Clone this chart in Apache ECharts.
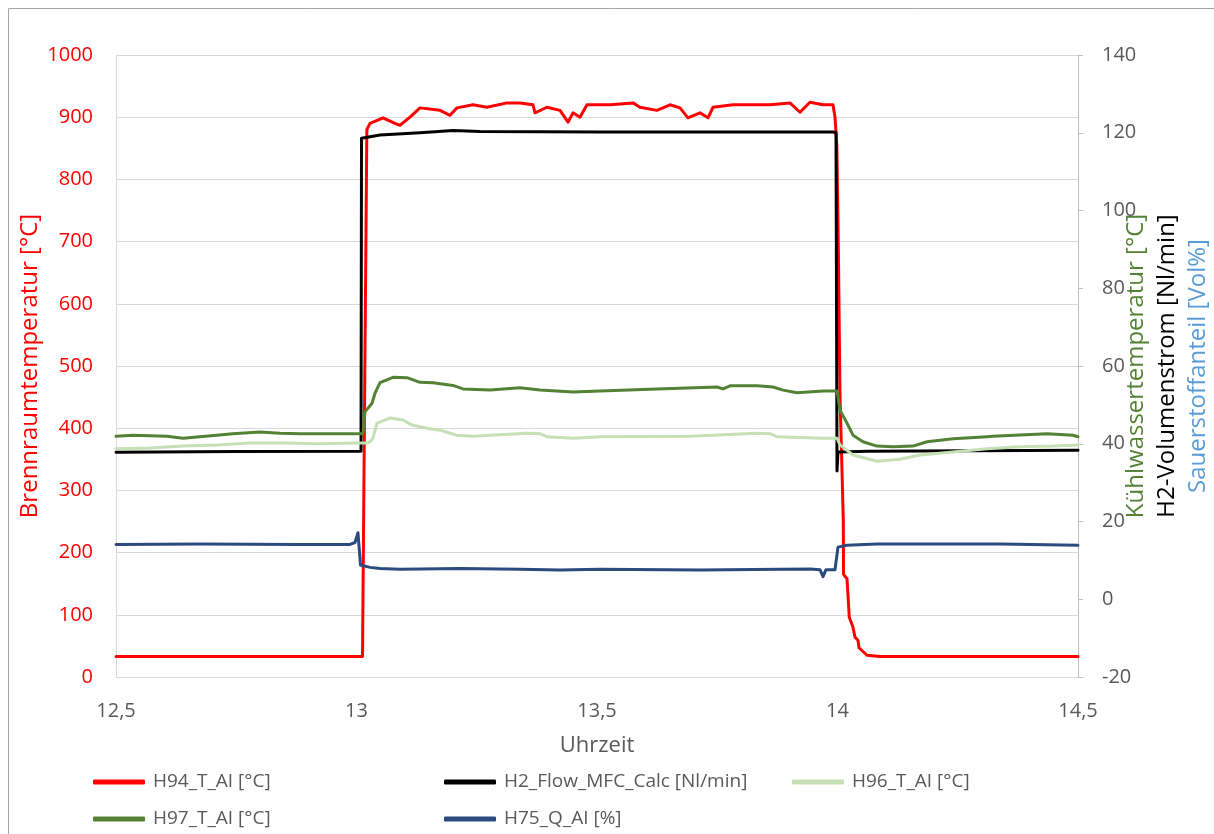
<!DOCTYPE html>
<html>
<head>
<meta charset="utf-8">
<script src="https://cdn.jsdelivr.net/npm/echarts@6/dist/echarts.min.js"></script>
<style>
html,body{margin:0;padding:0;background:#fff;overflow:hidden;}
#chart{width:1214px;height:834px;}
</style>
</head>
<body>
<div id="chart"></div>
<script>
// Series names
const seriesNames = ['H94_T_AI [°C]', 'H2_Flow_MFC_Calc [Nl/min]', 'H96_T_AI [°C]', 'H97_T_AI [°C]', 'H75_Q_AI [%]'];

// x-axis ticks (Uhrzeit)
const xMin = 12.5, xMax = 14.5, xStep = 0.5;
// left axis ticks (Brennraumtemperatur)
const yLeftMin = 0, yLeftMax = 1000, yLeftStep = 100;
// right axis ticks
const yRightMin = -20, yRightMax = 140, yRightStep = 20;

// H94_T_AI [°C] — left axis
const h94 = [
  [12.5,33],[13.0125,33],[13.0170,460],[13.0215,880],[13.0281,890],[13.0551,899],[13.0800,890],[13.0904,887],
  [13.1112,900],[13.1320,915],[13.1736,911],[13.1944,903],[13.2089,915],[13.2422,920],[13.2713,916],
  [13.3129,923],[13.3399,923],[13.3669,920],[13.3711,907],[13.3960,916],[13.4231,911],[13.4397,892],
  [13.4501,907],[13.4647,900],[13.4792,920],[13.5062,920],[13.5270,920],[13.5748,923],[13.5894,916],
  [13.6247,911],[13.6518,920],[13.6726,915],[13.6892,899],[13.7141,907],[13.7308,899],[13.7412,916],
  [13.7827,920],[13.8181,920],[13.8597,920],[13.9012,923],[13.9220,908],[13.9428,924],[13.9699,920],
  [13.9906,920],[13.9948,900],[13.9986,855],[14.0019,683],[14.0052,453],[14.0094,330],[14.0121,250],
  [14.0125,165],[14.0198,158],[14.0229,156],[14.0245,96],[14.0322,80],[14.0364,64],[14.0426,59],
  [14.0447,47],[14.0613,35],[14.0884,33],[14.5,33]
];

// H2_Flow_MFC_Calc [Nl/min] — right axis
const h2flow = [
  [12.5,37.8],[12.75,38.0],[13.0094,38.1],[13.0104,118.6],[13.0489,119.4],[13.1320,120.0],[13.2006,120.6],
  [13.2568,120.3],[13.5062,120.2],[13.9906,120.2],[13.9969,120.0],[13.9990,33.0],[14.0010,37.9],
  [14.0634,38.1],[14.5,38.3]
];

// H96_T_AI [°C] — right axis
const h96 = [
  [12.5,38.7],[12.5707,38.9],[12.6393,39.4],[12.7100,39.7],[12.7786,40.2],[12.8472,40.2],[12.9179,40.0],
  [13.0073,40.2],[13.0218,40.2],[13.0281,40.5],[13.0343,41.4],[13.0426,45.3],[13.0696,46.6],[13.0967,46.1],
  [13.1154,44.8],[13.1466,44.0],[13.1736,43.5],[13.2089,42.2],[13.2422,41.9],[13.3545,42.7],[13.3815,42.6],
  [13.3960,41.8],[13.4501,41.4],[13.5062,41.8],[13.6933,41.9],[13.8326,42.7],[13.8597,42.6],[13.8742,41.8],
  [13.9699,41.4],[13.9990,41.4],[14.0052,39.7],[14.0322,37.1],[14.0821,35.5],[14.1299,36.0],[14.1715,37.1],
  [14.2401,37.9],[14.3108,38.7],[14.3794,39.2],[14.4480,39.4],[14.5,39.7]
];

// H97_T_AI [°C] — right axis
const h97 = [
  [12.5,41.9],[12.5353,42.2],[12.6060,41.9],[12.6393,41.4],[12.6746,41.8],[12.7432,42.6],[12.7994,43.0],
  [12.8410,42.7],[12.8825,42.6],[13.0135,42.6],[13.0177,48.2],[13.0322,50.4],[13.0385,53.0],[13.0489,55.7],
  [13.0759,57.1],[13.1050,57.0],[13.1320,55.8],[13.1590,55.7],[13.2006,55.0],[13.2214,54.1],[13.2775,53.8],
  [13.3399,54.4],[13.3815,53.8],[13.4501,53.3],[13.5062,53.6],[13.6247,54.1],[13.7495,54.6],[13.7620,54.1],
  [13.7765,54.9],[13.8326,54.9],[13.8659,54.6],[13.8867,53.8],[13.9158,53.1],[13.9699,53.6],[13.9990,53.6],
  [14.0052,48.6],[14.0198,45.3],[14.0322,42.2],[14.0530,40.5],[14.0821,39.4],[14.1154,39.2],[14.1570,39.4],
  [14.1861,40.5],[14.2401,41.3],[14.3108,41.8],[14.3233,41.9],[14.4356,42.6],[14.4896,42.2],[14.5,41.8]
];

// H75_Q_AI [%] — right axis
const h75 = [
  [12.5,14.1],[12.6746,14.2],[12.8825,14.1],[12.9865,14.1],[12.9969,14.6],[13.0031,17.1],[13.0062,17.3],
  [13.0083,8.8],[13.0281,8.2],[13.0489,7.9],[13.0904,7.7],[13.2152,7.9],[13.3399,7.7],[13.4231,7.5],
  [13.5062,7.7],[13.7141,7.5],[13.8805,7.7],[13.9428,7.8],[13.9636,7.6],[13.9699,5.8],[13.9761,7.6],
  [13.9948,7.6],[14.0010,13.4],[14.0198,13.9],[14.0821,14.2],[14.1923,14.2],[14.3378,14.2],[14.5,13.9]
];

const colors = ['#ff0000', '#000000', '#c5e0b4', '#548235', '#2b4a7e'];
const FONT = 'Open Sans';

const chart = echarts.init(document.getElementById('chart'), null, {renderer: 'canvas'});

function legendAt(name, left, top) {
  return {
    data: [name], left: left, top: top, padding: 0,
    icon: 'roundRect', itemWidth: 52, itemHeight: 5,
    textStyle: {fontFamily: FONT, fontSize: 19, color: '#595959', padding: [0, 0, 0, 3], lineHeight: 24},
    selectedMode: false
  };
}

function lineSeries(i, data, yIdx) {
  return {
    name: seriesNames[i], type: 'line', data: data, yAxisIndex: yIdx,
    showSymbol: false, symbol: 'none', smooth: false,
    lineStyle: {color: colors[i], width: 3, join: 'round', cap: 'round'},
    itemStyle: {color: colors[i]},
    emphasis: {disabled: true}
  };
}

const plain = function (v) { return String(v).replace('.', ','); };

const option = {
  animation: false,
  backgroundColor: '#ffffff',
  textStyle: {fontFamily: FONT},
  graphic: [{
    type: 'rect', silent: true, z: -1,
    shape: {x: 8.5, y: 8.5, width: 1300, height: 900},
    style: {fill: 'none', stroke: '#a6a6a6', lineWidth: 1}
  }],
  grid: {left: 116, right: 136, top: 55, bottom: 157, containLabel: false, outerBoundsMode: 'none'},
  legend: [
    legendAt(seriesNames[0], 93, 770),
    legendAt(seriesNames[1], 444, 770),
    legendAt(seriesNames[2], 792, 770),
    legendAt(seriesNames[3], 93, 807),
    legendAt(seriesNames[4], 444, 807)
  ],
  xAxis: {
    type: 'value', min: xMin, max: xMax, interval: xStep,
    axisLine: {show: true, lineStyle: {color: '#d9d9d9', width: 1}},
    axisTick: {show: false},
    splitLine: {show: false},
    axisLabel: {color: '#595959', fontSize: 20, fontFamily: FONT, margin: 24, formatter: plain},
    name: 'Uhrzeit', nameLocation: 'middle', nameGap: 58, nameMoveOverlap: false,
    nameTextStyle: {color: '#595959', fontSize: 22, fontFamily: FONT}
  },
  yAxis: [
    {
      type: 'value', min: yLeftMin, max: yLeftMax, interval: yLeftStep, position: 'left',
      axisLine: {show: true, lineStyle: {color: '#d9d9d9', width: 1}},
      axisTick: {show: false},
      splitLine: {show: true, lineStyle: {color: '#d9d9d9', width: 1}},
      axisLabel: {color: '#ff0000', fontSize: 20, fontFamily: FONT, margin: 23, formatter: plain},
      name: 'Brennraumtemperatur [°C]', nameLocation: 'middle', nameRotate: 90, nameGap: 74,
      nameMoveOverlap: false,
      nameTextStyle: {color: '#ff0000', fontSize: 24, fontFamily: FONT}
    },
    {
      type: 'value', min: yRightMin, max: yRightMax, interval: yRightStep, position: 'right',
      axisLine: {show: true, lineStyle: {color: '#bfbfbf', width: 1}},
      axisTick: {show: true, inside: false, length: 5, lineStyle: {color: '#bfbfbf'}},
      splitLine: {show: false},
      axisLabel: {color: '#595959', fontSize: 20, fontFamily: FONT, margin: 24, formatter: plain},
      name: '{g|Kühlwassertemperatur [°C]}\n{k|H2-Volumenstrom [Nl/min]}\n{b|Sauerstoffanteil [Vol%]}',
      nameLocation: 'middle', nameRotate: 90, nameGap: 43, nameMoveOverlap: false,
      nameTextStyle: {
        fontSize: 24, lineHeight: 31, fontFamily: FONT,
        rich: {
          g: {color: '#548235', fontSize: 24, lineHeight: 31, fontFamily: FONT},
          k: {color: '#000000', fontSize: 24, lineHeight: 31, fontFamily: FONT},
          b: {color: '#5b9bd5', fontSize: 24, lineHeight: 31, fontFamily: FONT}
        }
      }
    }
  ],
  series: [
    lineSeries(0, h94, 0),
    lineSeries(1, h2flow, 1),
    lineSeries(2, h96, 1),
    lineSeries(3, h97, 1),
    lineSeries(4, h75, 1)
  ]
};

chart.setOption(option);
</script>
</body>
</html>
